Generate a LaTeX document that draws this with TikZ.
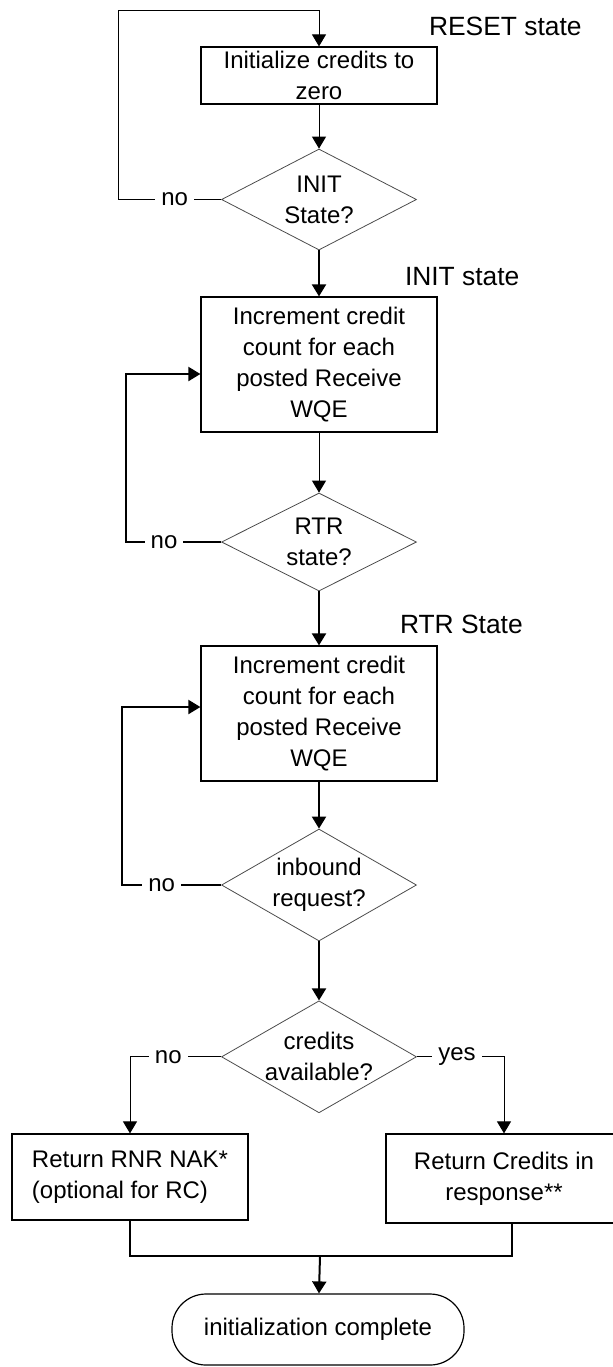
\documentclass[tikz,border=0pt]{standalone}
\usepackage{fontspec}
\setmainfont{Liberation Sans}
\usetikzlibrary{arrows.meta,positioning,shapes.geometric}

\begin{document}
\begin{tikzpicture}[
   x=0.5pt,y=-0.5pt,
   font=\fontsize{12}{15.5}\selectfont,
   box/.style  ={draw=black,line width=0.6pt,minimum width=118pt,align=center,inner sep=0pt},
   dec/.style  ={draw=black!70,line width=0.4pt,diamond,minimum width=97.5pt,inner sep=-2pt,align=center},
   term/.style ={draw=black,line width=0.6pt,rounded corners=17pt,minimum width=146pt,minimum height=35.5pt},
   note/.style ={inner sep=0pt,font=\fontsize{13.2}{16}\selectfont},
   lbl/.style  ={fill=white,inner sep=3pt},
   fl/.style   ={-{Triangle[length=6pt,width=7pt]},line width=0.5pt},
   fk/.style   ={-{Triangle[length=6pt,width=7pt]},line width=1pt}
  ]
  \useasboundingbox (0,0) rectangle (613,1367);

  % main column
  \node[box,minimum height=28.5pt] (b1) at (319,75.5) {Initialize credits to\\zero};
  \node[dec,aspect=1.93,minimum height=50.5pt,below=22pt of b1] (q1) {INIT\\State?};
  \node[box,minimum height=67.5pt,below=23pt of q1] (b2) {Increment credit\\count for each\\posted Receive\\WQE};
  \node[dec,aspect=2,minimum height=49pt,below=30pt of b2] (q2) {RTR\\state?};
  \node[box,minimum height=67.5pt,below=27pt of q2] (b3) {Increment credit\\count for each\\posted Receive\\WQE};
  \node[dec,aspect=1.74,minimum height=56pt,below=23.5pt of b3] (q3) {inbound\\request?};
  \node[dec,aspect=1.74,minimum height=56pt,below=29.5pt of q3] (q4) {credits\\available?};

  % outcomes
  \node[box,minimum height=43pt,align=left] (b4) at (130,1177) {Return RNR NAK*\\(optional for RC)};
  \node[box,minimum height=44.5pt] (b5) at (504,1178.5) {Return Credits in\\response**};
  \node[term] (done) at (318,1329.5) {initialization complete};

  % state notes
  \node[note,above right=5pt and -4.5pt of b1.north east] (rst) {RESET state};
  \node[note,above right=5pt and -16.5pt of b2.north east] (ini) {INIT state};
  \node[note,above right=5.5pt and -19pt of b3.north east] (rtr) {RTR State};

  \coordinate (lp1) at (118,10);
  \coordinate (lp2) at (126,374);
  \coordinate (lp3) at (122,707);
  \coordinate (jn) at (320,1256);

  \draw[fl] (b1) -- (q1);
  \draw[fk] (q1) -- (b2);
  \draw[fl] (b2) -- (q2);
  \draw[fk] (q2) -- (b3);
  \draw[fk] (b3) -- (q3);
  \draw[fk] (q3) -- (q4);

  % loops back
  \draw[fl] (q1.west) -- node[lbl,pos=0.45]{no} (q1.west -| lp1) -- (lp1) -- (lp1 -| b1) -- (b1.north);
  \draw[fk] (q2.west) -- node[lbl,pos=0.6]{no} (q2.west -| lp2) -- (lp2) -- (lp2 -| b2.west);
  \draw[fk] (q3.west) -- node[lbl,pos=0.6]{no} (q3.west -| lp3) -- (lp3) -- (lp3 -| b3.west);

  \draw[fl] (q4.west) -| node[lbl,pos=0.29]{no} (b4.north);
  \draw[fl] (q4.east) -| node[lbl,pos=0.23]{yes} (b5.north);
  \draw[line width=1pt] (b4.south) |- (jn) -| ([xshift=4pt]b5.south);
  \draw[fk] (jn) -- (done);
\end{tikzpicture}
\end{document}
